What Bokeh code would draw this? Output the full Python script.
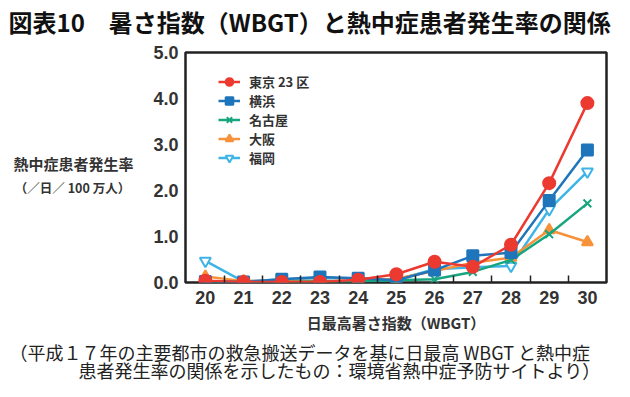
from bokeh.plotting import figure
from bokeh.layouts import column, row
from bokeh.models import Legend, LegendItem, FixedTicker, Range1d, Label, CustomJSTickFormatter
from bokeh.embed import file_html
from bokeh.resources import INLINE

wbgt = [20, 21, 22, 23, 24, 25, 26, 27, 28, 29, 30]
tokyo = [0.04, 0.01, 0.01, 0.01, 0.06, 0.18, 0.45, 0.34, 0.82, 2.16, 3.90]
yokohama = [0.02, 0.01, 0.07, 0.12, 0.09, 0.05, 0.27, 0.58, 0.65, 1.78, 2.88]
nagoya = [0.02, 0.01, 0.01, 0.02, 0.02, 0.05, 0.07, 0.23, 0.49, 1.05, 1.72]
osaka = [0.13, 0.03, 0.03, 0.03, 0.04, 0.08, 0.25, 0.43, 0.54, 1.14, 0.88]
fukuoka = [0.47, 0.02, 0.07, 0.09, 0.09, 0.06, 0.29, 0.33, 0.36, 1.59, 2.41]

names = ["東京 23 区", "横浜", "名古屋", "大阪", "福岡"]
y_ticks = [0, 1, 2, 3, 4, 5]

title_text = "図表10　暑さ指数（WBGT）と熱中症患者発生率の関係"
ylab1 = "熱中症患者発生率"
ylab2 = "（／日／ 100 万人）"
xlab = "日最高暑さ指数（WBGT）"
cap1 = "（平成１７年の主要都市の救急搬送データを基に日最高 WBGT と熱中症"
cap2 = "患者発生率の関係を示したもの：環境省熱中症予防サイトより）"

FONT = "Liberation Sans"
CJK = "Noto Sans CJK JP"

W = 614
TOTAL_H = 381
FRAME_TOP = 52
FRAME_BOTTOM = 282
FRAME_LEFT = 185
TH = 40                      # title strip height
MAIN_BOTTOM = 336            # bottom of main strip (absolute)
MH = MAIN_BOTTOM - TH        # main strip height
CH = TOTAL_H - MAIN_BOTTOM   # caption strip height
YL = 140                     # y-label panel width


def text_fig(w, h):
    f = figure(width=w, height=h, output_backend="svg", toolbar_location=None,
               x_range=Range1d(0, w), y_range=Range1d(0, h),
               x_axis_location=None, y_axis_location=None,
               min_border=0)
    f.xgrid.visible = False
    f.ygrid.visible = False
    f.outline_line_color = None
    f.background_fill_color = "white"
    f.border_fill_color = "white"
    return f


def add_text(f, y_from_bottom, x, text, size, bold=False, align="left", color="#222222"):
    f.add_layout(Label(x=x, y=y_from_bottom, x_units="screen", y_units="screen", text=text,
                       text_font=CJK, text_font_size=size,
                       text_font_style="bold" if bold else "normal",
                       text_align=align, text_baseline="middle", text_color=color))


# title strip (frame = whole strip)
tf = text_fig(W, TH)
add_text(tf, TH - 21, 8, title_text, "24px", bold=True, color="#111111")

# y-label panel (its frame is aligned with the main plot frame)
yf = text_fig(YL, MH)
add_text(yf, FRAME_BOTTOM - 163, 73, ylab1, "15px", bold=True, align="center", color="#333333")
add_text(yf, FRAME_BOTTOM - 187, 72, ylab2, "12.5px", bold=True, align="center", color="#333333")

# main plot
p = figure(width=W - YL, height=MH, output_backend="svg", toolbar_location=None,
           x_range=Range1d(19.48, 30.5), y_range=Range1d(0, 5),
           min_border_left=FRAME_LEFT - YL, min_border_right=8,
           min_border_top=FRAME_TOP - TH,
           min_border_bottom=MAIN_BOTTOM - FRAME_BOTTOM)
p.background_fill_color = "white"
p.border_fill_color = "white"
p.outline_line_color = "#222222"
p.outline_line_width = 2.5
p.xgrid.visible = False
p.ygrid.visible = False

xa = p.xaxis[0]
xa.ticker = FixedTicker(ticks=wbgt, minor_ticks=[x + 0.5 for x in wbgt[:-1]])
xa.major_tick_in = 0
xa.major_tick_out = 0
xa.minor_tick_in = 7
xa.minor_tick_out = 0
xa.minor_tick_line_color = "#222222"
xa.minor_tick_line_width = 1.5
xa.axis_line_color = None
xa.major_label_text_font = FONT
xa.major_label_text_font_style = "bold"
xa.major_label_text_font_size = "18px"
xa.major_label_text_color = "#333333"
xa.major_label_standoff = 8
xa.axis_label = xlab
xa.axis_label_text_font = CJK
xa.axis_label_text_font_style = "bold"
xa.axis_label_text_font_size = "15px"
xa.axis_label_text_color = "#333333"
xa.axis_label_standoff = 5

ya = p.yaxis[0]
ya.ticker = FixedTicker(ticks=y_ticks)
ya.formatter = CustomJSTickFormatter(code="return tick.toFixed(1);")
ya.major_tick_in = 0
ya.major_tick_out = 0
ya.minor_tick_line_color = None
ya.axis_line_color = None
ya.major_label_text_font = FONT
ya.major_label_text_font_style = "bold"
ya.major_label_text_font_size = "18px"
ya.major_label_text_color = "#333333"
ya.major_label_standoff = 7

series = [
    (tokyo, "#ec3a31", "circle", 12, "#ec3a31"),
    (yokohama, "#1f75bb", "square", 11, "#1f75bb"),
    (nagoya, "#17a57f", "x", 11, "#17a57f"),
    (osaka, "#f7923a", "triangle", 11, "#f7923a"),
    (fukuoka, "#3eb4e6", "inverted_triangle", 11, "white"),
]

renderers = {}
for idx in [4, 3, 2, 1, 0]:
    vals, col, mk, sz, fill = series[idx]
    l = p.line(wbgt, vals, line_color=col, line_width=2.5)
    s = p.scatter(wbgt, vals, marker=mk, size=sz, line_color=col,
                  fill_color=fill, line_width=2)
    renderers[idx] = [l, s]

legend = Legend(items=[LegendItem(label=names[i], renderers=renderers[i]) for i in range(5)],
                location=(33, 115), border_line_color=None,
                background_fill_alpha=0, padding=0, margin=0, spacing=0,
                glyph_width=22, glyph_height=19, label_height=19,
                label_standoff=9, label_text_font=CJK,
                label_text_font_style="bold", label_text_font_size="13px",
                label_text_color="#333333")
p.add_layout(legend, "center")

# caption strip (frame = whole strip)
cf = text_fig(W, CH)
add_text(cf, TOTAL_H - 351, 9, cap1, "18px")
add_text(cf, TOTAL_H - 369, 78, cap2, "18px")

layout = column(tf, row(yf, p, spacing=0), cf, spacing=0)

open("out.html", "w").write(file_html(layout, INLINE))
